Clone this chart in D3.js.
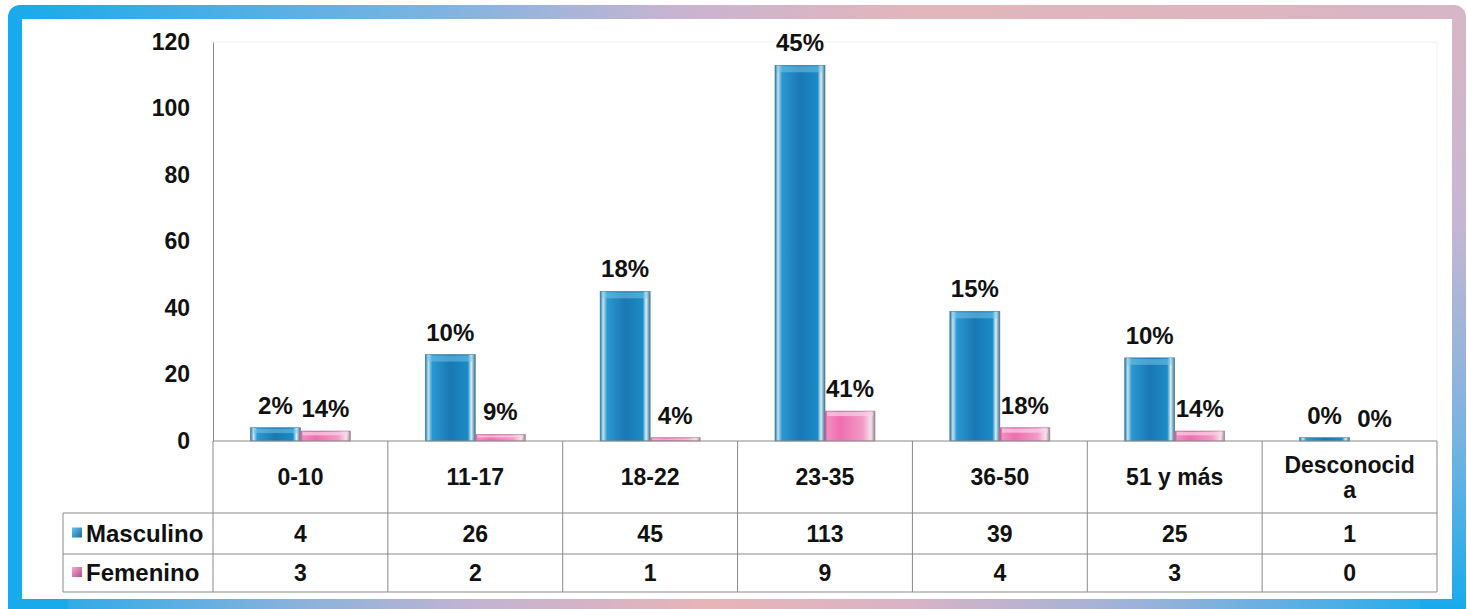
<!DOCTYPE html>
<html><head><meta charset="utf-8">
<script src="https://cdn.jsdelivr.net/npm/d3@7"></script>
<style>html,body{margin:0;padding:0;background:#fff;}svg{display:block;}</style>
</head><body>
<svg id="c" width="1467" height="609"></svg>
<script>
const categories = ["0-10","11-17","18-22","23-35","36-50","51 y más","Desconocida"];
const categoryLines = [["0-10"],["11-17"],["18-22"],["23-35"],["36-50"],["51 y más"],["Desconocid","a"]];
const masculino = [4,26,45,113,39,25,1];
const femenino = [3,2,1,9,4,3,0];
const pctMasculino = ["2%","10%","18%","45%","15%","10%","0%"];
const pctFemenino = ["14%","9%","4%","41%","18%","14%","0%"];
const seriesNames = ["Masculino","Femenino"];
const yTicks = [0,20,40,60,80,100,120];

(function(){
const svg = d3.select("#c");
const defs = svg.append("defs");
const FONT = "Arial, 'Liberation Sans', sans-serif";

function lg(id, x2, y2, stops){
  const g = defs.append("linearGradient").attr("id",id).attr("x1",0).attr("y1",0).attr("x2",x2).attr("y2",y2);
  stops.forEach(s=>g.append("stop").attr("offset",s[0]).attr("stop-color",s[1]));
}
lg("gTop",1,0,[[0,"#18aaea"],[0.3,"#7fb4e0"],[0.45,"#c6b4d2"],[0.62,"#e2b6bc"],[0.85,"#ddb6c0"],[1,"#d6b6c8"]]);
lg("gBot",1,0,[[0,"#1aaaea"],[0.2,"#8ab2dc"],[0.32,"#c2b4d2"],[0.48,"#e8b4b8"],[0.62,"#d8b4c6"],[0.78,"#9ab2da"],[1,"#14acee"]]);
lg("gRight",0,1,[[0,"#d8b6c4"],[0.35,"#c6b6d4"],[0.7,"#7ab4e0"],[1,"#16abec"]]);

svg.append("rect").attr("x",8).attr("y",5).attr("width",1458).attr("height",606).attr("rx",12).attr("fill","url(#gTop)");
svg.append("rect").attr("x",8).attr("y",300).attr("width",1458).attr("height",311).attr("fill","url(#gBot)");
svg.append("rect").attr("x",1420).attr("y",18).attr("width",46).attr("height",593).attr("fill","url(#gRight)");
svg.append("rect").attr("x",8).attr("y",18).attr("width",60).attr("height",593).attr("fill","#18aaea");
svg.append("rect").attr("x",22).attr("y",19).attr("width",1430).attr("height",580).attr("fill","#fff");

const pL = 213, pR = 1437, pT = 42, pB = 441;
const x = d3.scaleBand().domain(categories).range([pL,pR]).paddingInner(0).paddingOuter(0);
const y = d3.scaleLinear().domain([0,120]).range([pB,pT]);
const bw = x.bandwidth()*0.286;

svg.append("path").attr("d",`M${pL},${pT}H${pR}V${pB}`).attr("fill","none").attr("stroke","#f0f0f0").attr("stroke-width",1);

lg("gBlue",1,0,[[0,"#2a6f94"],[0.06,"#bfe6f5"],[0.14,"#2b97d0"],[0.5,"#1a78b2"],[0.85,"#1b8bc7"],[0.92,"#d8f0f8"],[1,"#47708a"]]);
lg("gPink",1,0,[[0,"#c0508a"],[0.05,"#f48cc0"],[0.3,"#ee6fae"],[0.75,"#f29ac6"],[0.92,"#f7e0ec"],[1,"#8c8c8c"]]);
lg("gBlueKey",1,1,[[0,"#6cc4ea"],[1,"#1568a0"]]);
lg("gPinkKey",1,1,[[0,"#f0b0d0"],[1,"#b84a8a"]]);

const g = svg.append("g");
categories.forEach((c,i)=>{
  const xb = x(c) + x.bandwidth()/2 - bw;
  const hm = pB - y(masculino[i]);
  g.append("rect").attr("x",xb).attr("y",y(masculino[i])).attr("width",bw).attr("height",hm)
    .attr("fill","url(#gBlue)").attr("stroke","#3a7da3").attr("stroke-width",0.6);
  if (hm > 6) {
    g.append("rect").attr("x",xb+2).attr("y",y(masculino[i])+1).attr("width",bw-4).attr("height",Math.min(6,hm/3))
      .attr("fill","#7cc8ea").attr("opacity",0.5);
  }
  const hf = pB - y(femenino[i]);
  if (hf > 0) {
    g.append("rect").attr("x",xb+bw).attr("y",y(femenino[i])).attr("width",bw).attr("height",hf)
      .attr("fill","url(#gPink)").attr("stroke","#b07a96").attr("stroke-width",0.6);
    g.append("rect").attr("x",xb+bw+2).attr("y",y(femenino[i])+1).attr("width",bw-4).attr("height",Math.min(4,hf/3))
      .attr("fill","#fbd2e6").attr("opacity",0.7);
  }
  g.append("text").attr("x",xb+bw/2).attr("y",y(masculino[i])-14).attr("text-anchor","middle")
    .attr("font-family",FONT).attr("font-weight","bold").attr("font-size",24).attr("fill","#111").text(pctMasculino[i]);
  g.append("text").attr("x",xb+bw*1.5).attr("y",y(femenino[i])-14).attr("text-anchor","middle")
    .attr("font-family",FONT).attr("font-weight","bold").attr("font-size",24).attr("fill","#111").text(pctFemenino[i]);
});

const yAxis = d3.axisLeft(y).tickValues(yTicks).tickSize(0).tickPadding(23);
const ya = svg.append("g").attr("transform",`translate(${pL},0)`).call(yAxis);
ya.select(".domain").attr("stroke","#888");
ya.selectAll("text").attr("font-family",FONT).attr("font-weight","bold").attr("font-size",23).attr("fill","#111");

const rowCat = [pB, 513], rowM = [513,554], rowF = [554,592];
const tbl = svg.append("g").attr("stroke","#8a8a8a").attr("stroke-width",1).attr("fill","none");
tbl.append("line").attr("x1",pL).attr("x2",pR).attr("y1",pB).attr("y2",pB);
tbl.append("line").attr("x1",63).attr("x2",pR).attr("y1",513).attr("y2",513);
tbl.append("line").attr("x1",63).attr("x2",pR).attr("y1",554).attr("y2",554);
tbl.append("line").attr("x1",63).attr("x2",pR).attr("y1",592).attr("y2",592);
tbl.append("line").attr("x1",63).attr("x2",63).attr("y1",513).attr("y2",592);
categories.forEach(c=>{
  tbl.append("line").attr("x1",x(c)).attr("x2",x(c)).attr("y1",pB).attr("y2",592);
});
tbl.append("line").attr("x1",pR).attr("x2",pR).attr("y1",pB).attr("y2",592);

const txt = svg.append("g").attr("font-family",FONT).attr("font-weight","bold").attr("font-size",23).attr("fill","#111").attr("text-anchor","middle");
categories.forEach((c,i)=>{
  const cx = x(c)+x.bandwidth()/2;
  const lines = categoryLines[i];
  const cy = (rowCat[0]+rowCat[1])/2;
  lines.forEach((l,k)=>{
    txt.append("text").attr("x",cx).attr("y",cy + 8 + (k-(lines.length-1)/2)*25).text(l);
  });
  txt.append("text").attr("x",cx).attr("y",(rowM[0]+rowM[1])/2+8).text(masculino[i]);
  txt.append("text").attr("x",cx).attr("y",(rowF[0]+rowF[1])/2+8).text(femenino[i]);
});
[[rowM,"url(#gBlueKey)",seriesNames[0]],[rowF,"url(#gPinkKey)",seriesNames[1]]].forEach(([r,fill,name])=>{
  const cy=(r[0]+r[1])/2;
  svg.append("rect").attr("x",72).attr("y",cy-6).attr("width",10).attr("height",10).attr("fill",fill);
  svg.append("text").attr("x",86).attr("y",cy+8).attr("font-family",FONT).attr("font-weight","bold").attr("font-size",24).attr("fill","#111").text(name);
});
})();
</script>
</body></html>
